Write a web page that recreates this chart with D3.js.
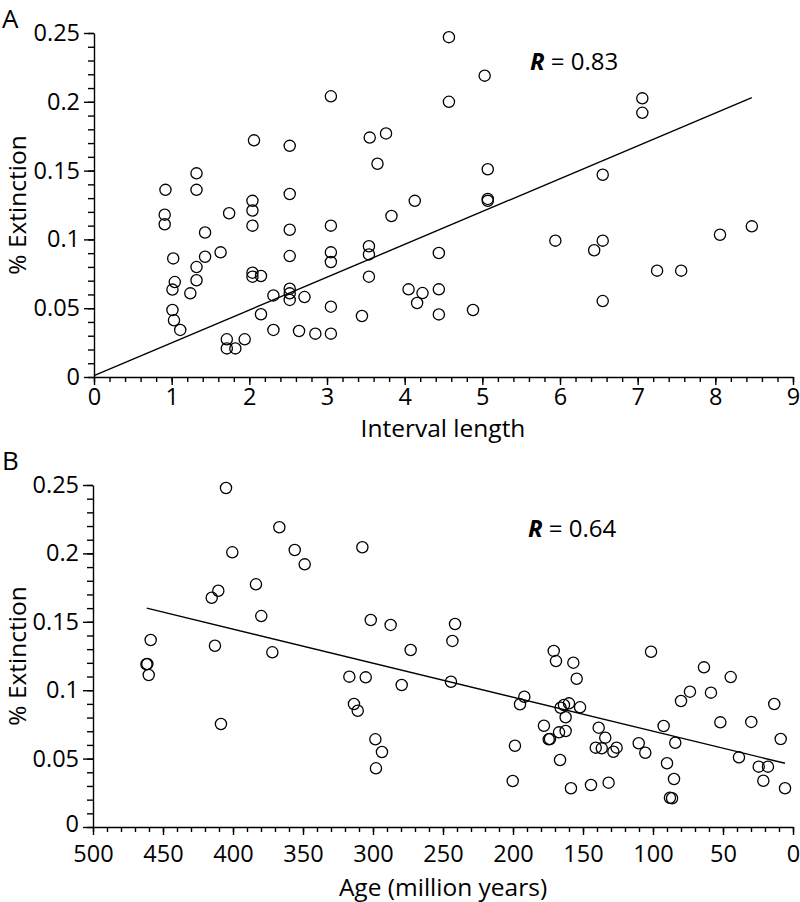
<!DOCTYPE html>
<html>
<head>
<meta charset="utf-8">
<script src="https://cdn.jsdelivr.net/npm/d3@7"></script>
<style>
  html, body { margin: 0; padding: 0; background: #fff; }
  svg text { font-family: "Open Sans", "Noto Sans", sans-serif; fill: #000; }
</style>
</head>
<body>
<svg id="chart" width="800" height="902"></svg>
<script>
// ---------- Panel A data: interval length vs % extinction ----------
const intervalLength = [
  3.05, 2.06, 2.52, 3.55, 3.76, 3.65, 0.92, 1.32, 1.32, 2.52,
  2.04, 4.57, 5.03, 4.57, 7.06, 7.06, 5.07, 6.55, 4.13, 5.07,
  5.07, 2.04, 1.74, 0.91, 0.91, 2.04, 2.52, 3.05, 3.83, 1.43,
  1.63, 1.02, 1.43, 2.52, 3.05, 3.05, 3.54, 3.54, 3.54, 1.32,
  1.32, 1.04, 1.01, 1.24, 2.04, 2.04, 2.15, 2.52, 2.52, 2.52,
  2.31, 2.71, 3.05, 3.45, 1.01, 1.03, 1.11, 2.15, 2.31, 2.64,
  2.85, 3.05, 1.71, 1.94, 1.71, 1.82, 5.94, 6.44, 6.55, 8.06,
  8.47, 7.25, 7.56, 4.44, 4.05, 4.23, 4.44, 4.16, 4.44, 4.88,
  6.55
];
const extinctionA = [
  0.204, 0.172, 0.168, 0.174, 0.177, 0.155, 0.136, 0.148, 0.136, 0.133,
  0.128, 0.247, 0.219, 0.200, 0.2025, 0.192, 0.151, 0.147, 0.128, 0.1294,
  0.128, 0.121, 0.119, 0.118, 0.111, 0.110, 0.107, 0.110, 0.117, 0.105,
  0.0906, 0.0862, 0.0874, 0.0879, 0.0906, 0.0836, 0.0950, 0.0891, 0.0729, 0.0799,
  0.0703, 0.069, 0.0635, 0.0608, 0.0758, 0.0729, 0.0734, 0.0642, 0.0608, 0.056,
  0.0593, 0.0581, 0.0511, 0.0443, 0.0487, 0.0412, 0.0342, 0.0456, 0.0342, 0.0334,
  0.0315, 0.0315, 0.0274, 0.0274, 0.0208, 0.0208, 0.0991, 0.0921, 0.0991, 0.1034,
  0.1095, 0.0773, 0.0773, 0.0901, 0.0637, 0.061, 0.0637, 0.0538, 0.0455, 0.0487,
  0.0552
];
const fitA_x = [0, 8.47];
const fitA_y = [0.001, 0.203];
const labelA_R = "0.83";

// ---------- Panel B data: age vs % extinction ----------
const ageMyr = [
  405, 366.9, 400.5, 355.9, 348.8, 307.6, 383.6, 410.5, 415.2, 379.8,
  301.6, 287.4, 458.8, 412.9, 371.9, 461.8, 461.2, 460.2, 408.6, 316.9,
  305.2, 313.6, 310.9, 298.3, 293.6, 297.9, 279.5, 241.4, 243.3, 273.1,
  244.3, 170.9, 169.3, 156.9, 154.5, 101.4, 63.6, 44.5, 73.6, 58.6,
  80, 13.4, 191.9, 195, 166, 163.6, 160, 152.1, 162.4, 177.9,
  174.5, 173.6, 167.1, 162.4, 138.8, 134.1, 140.9, 136.6, 128.3, 126,
  110.2, 105.5, 92.4, 84.1, 90, 85, 87.9, 86.4, 51.9, 29.8,
  8.8, 38.6, 24.5, 17.9, 21.2, 5.7, 198.6, 200.2, 166.4, 158.6,
  144.3, 131.7
];
const extinctionB = [
  0.2478, 0.2191, 0.2008, 0.2025, 0.192, 0.2045, 0.1774, 0.1727, 0.1676, 0.1542,
  0.1513, 0.1477, 0.1367, 0.1325, 0.1277, 0.119, 0.1192, 0.1111, 0.0753, 0.1099,
  0.1094, 0.0899, 0.085, 0.0641, 0.0548, 0.0429, 0.1038, 0.1484, 0.136, 0.1294,
  0.1062, 0.1287, 0.1213, 0.1201, 0.1084, 0.1281, 0.1167, 0.1096, 0.0989, 0.0982,
  0.0921, 0.0899, 0.0952, 0.0897, 0.0872, 0.0892, 0.0904, 0.0875, 0.0802, 0.074,
  0.0641, 0.0643, 0.0692, 0.0702, 0.0726, 0.0653, 0.058, 0.0575, 0.055, 0.058,
  0.0612, 0.0543, 0.0738, 0.0616, 0.0466, 0.0351, 0.0214, 0.021, 0.0765, 0.0768,
  0.0643, 0.0509, 0.0441, 0.0441, 0.0338, 0.0283, 0.0594, 0.0336, 0.049, 0.0283,
  0.0307, 0.0324
];
const fitB_x = [461.6, 5.7];
const fitB_y = [0.160, 0.0466];
const labelB_R = "0.64";

// ---------- Tick values ----------
const yTicks = [0, 0.05, 0.1, 0.15, 0.2, 0.25];
const yTickLabels = ["0", "0.05", "0.1", "0.15", "0.2", "0.25"];
const xTicksA = [0, 1, 2, 3, 4, 5, 6, 7, 8, 9];
const xTicksB = [500, 450, 400, 350, 300, 250, 200, 150, 100, 50, 0];

const svg = d3.select("#chart");
const TICK_FONT = 23.5, TITLE_FONT = 24.5;

function panel(opts) {
  const g = svg.append("g");
  const x = d3.scaleLinear().domain(opts.xDomain).range(opts.xRange);
  const y = d3.scaleLinear().domain([0, 0.25]).range(opts.yRange);

  // minor y ticks
  g.append("g").attr("transform", `translate(${opts.xRange[0]},0)`)
    .call(d3.axisLeft(y).tickValues(d3.range(0, 0.2501, 0.01)).tickSize(6).tickFormat("").tickSizeOuter(0))
    .call(s => s.select(".domain").remove());
  // major y ticks
  g.append("g").attr("transform", `translate(${opts.xRange[0]},0)`)
    .call(d3.axisLeft(y).tickValues(yTicks).tickSize(10).tickSizeOuter(0)
      .tickFormat((d, i) => yTickLabels[i]))
    .call(s => s.selectAll("text").attr("font-size", TICK_FONT).attr("dx", "-1").attr("font-family", "Open Sans")
      .attr("dy", d => d === 0 ? opts.zeroDy : "0.32em"));

  // minor x ticks
  const xmin = Math.min(...opts.xDomain), xmax = Math.max(...opts.xDomain);
  g.append("g").attr("transform", `translate(0,${opts.yRange[0]})`)
    .call(d3.axisBottom(x).tickValues(d3.range(xmin, xmax + opts.minorStep / 2, opts.minorStep)).tickSize(5).tickFormat("").tickSizeOuter(0))
    .call(s => s.select(".domain").remove());
  // major x ticks
  g.append("g").attr("transform", `translate(0,${opts.yRange[0]})`)
    .call(d3.axisBottom(x).tickValues(opts.xTicks).tickSize(8).tickSizeOuter(0).tickFormat(d3.format("d")))
    .call(s => s.selectAll("text").attr("font-size", TICK_FONT).attr("dy", opts.xLabelDy).attr("font-family", "Open Sans"));

  g.selectAll(".domain, .tick line").attr("stroke", "#000").attr("stroke-width", 1.4);

  // fit line
  g.append("line")
    .attr("x1", x(opts.fitX[0])).attr("y1", y(opts.fitY[0]))
    .attr("x2", x(opts.fitX[1])).attr("y2", y(opts.fitY[1]))
    .attr("stroke", "#000").attr("stroke-width", 1.4);

  // points
  g.selectAll("circle.pt").data(opts.xs.map((v, i) => [v, opts.ys[i]]))
    .join("circle").attr("class", "pt")
    .attr("cx", d => x(d[0])).attr("cy", d => y(d[1]))
    .attr("r", 5.6).attr("fill", "none").attr("stroke", "#000").attr("stroke-width", 1.3);

  // y label
  g.append("text")
    .attr("transform", `translate(${opts.yLabelX},${(opts.yRange[0] + opts.yRange[1]) / 2}) rotate(-90)`)
    .attr("text-anchor", "middle").attr("font-size", TITLE_FONT).text("% Extinction");
  // x label
  g.append("text").attr("x", 443).attr("y", opts.xLabelY)
    .attr("text-anchor", "middle").attr("font-size", TITLE_FONT).text(opts.xLabel);
  // panel letter
  g.append("text").attr("x", 2).attr("y", opts.letterY).attr("font-size", 26).text(opts.letter);
  // R annotation
  const t = g.append("text").attr("x", opts.rX).attr("y", opts.rY).attr("font-size", 24);
  t.append("tspan").attr("font-weight", "bold").attr("font-style", "italic").text("R");
  t.append("tspan").text(" = " + opts.rVal);
}

panel({
  xDomain: [0, 9], xRange: [94, 793], yRange: [377, 33], minorStep: 0.2,
  xTicks: xTicksA, xs: intervalLength, ys: extinctionA, fitX: fitA_x, fitY: fitA_y,
  xLabel: "Interval length", xLabelY: 437, xLabelDy: "0.71em", zeroDy: "0.32em", yLabelX: 26,
  letter: "A", letterY: 28, rX: 530, rY: 70, rVal: labelA_R
});
panel({
  xDomain: [500, 0], xRange: [93, 793], yRange: [827, 485], minorStep: 10,
  xTicks: xTicksB, xs: ageMyr, ys: extinctionB, fitX: fitB_x, fitY: fitB_y,
  xLabel: "Age (million years)", xLabelY: 896, xLabelDy: "1.0em", zeroDy: "0.2em", yLabelX: 26,
  letter: "B", letterY: 470, rX: 528, rY: 537, rVal: labelB_R
});
</script>
</body>
</html>
